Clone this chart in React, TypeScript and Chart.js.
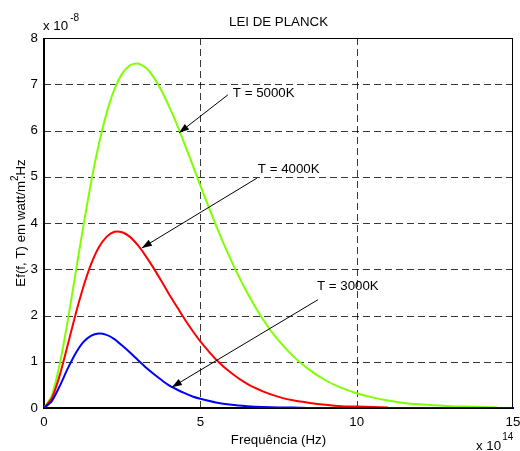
import React, { useEffect, useRef } from "react";
import { Chart, registerables } from "chart.js";

Chart.register(...registerables);

// ---- data (frequency in units of 1e14 Hz, radiance in units of 1e-8) ----
const freq = [
  0, 0.25, 0.5, 0.75, 1, 1.25, 1.5, 1.75, 2, 2.25, 2.5, 2.75, 3, 3.25, 3.5, 3.75, 4,
  4.25, 4.5, 4.75, 5, 5.5, 6, 6.5, 7, 7.5, 8, 8.5, 9, 9.5, 10, 10.5, 11, 11.5, 12,
  12.5, 13, 13.5, 14, 14.5, 15,
];
const e5000 = [
  0, 0.27, 0.94, 1.85, 2.88, 3.9, 4.86, 5.69, 6.37, 6.89, 7.23, 7.41, 7.45, 7.36,
  7.16, 6.87, 6.52, 6.13, 5.7, 5.26, 4.81, 3.95, 3.17, 2.49, 1.92, 1.46, 1.1, 0.82,
  0.6, 0.44, 0.32, 0.23, 0.16, 0.11, 0.08, 0.06, 0.04, 0.03, 0.02, 0.01,
];
const e4000 = [
  0, 0.21, 0.7, 1.34, 2.0, 2.6, 3.1, 3.47, 3.7, 3.81, 3.8, 3.7, 3.52, 3.29, 3.03,
  2.75, 2.46, 2.19, 1.92, 1.67, 1.44, 1.05, 0.75, 0.52, 0.36, 0.24, 0.16, 0.11, 0.07,
  0.04, 0.03, 0.02, 0.01,
];
const e3000 = [
  0, 0.15, 0.47, 0.84, 1.17, 1.42, 1.56, 1.61, 1.58, 1.49, 1.35, 1.2, 1.04, 0.88,
  0.74, 0.61, 0.49, 0.4, 0.32, 0.25, 0.2, 0.12, 0.07, 0.04, 0.02, 0.01, 0.01, 0, 0,
  0, 0, 0, 0, 0, 0, 0, 0, 0, 0, 0, 0,
];
const xTicks = [0, 5, 10, 15];
const yTicks = [0, 1, 2, 3, 4, 5, 6, 7, 8];
const seriesLabels = ["T = 3000K", "T = 4000K", "T = 5000K"];
const titleText = "LEI DE PLANCK";
const xLabelText = "Frequência (Hz)";
const yLabelMain = "Ef(f, T) em watt/m";
const yLabelSup = "2";
const yLabelTail = ".Hz";
const expBase = "x 10";
const xExponent = "14";
const yExponent = "-8";

const FONT = '"Liberation Sans", Arial, Helvetica, sans-serif';
const fs = 13.3;

const pts = (vals: number[]) => vals.map((v, i) => ({ x: freq[i], y: v }));

// annotation anchors in data coordinates: [textX, textY, lineStartX, lineStartY, tipX, tipY]
const annotationGeom: number[][] = [
  [8.73, 2.62, 8.76, 2.34, 4.09, 0.45],
  [6.84, 5.17, 6.81, 4.97, 3.13, 3.46],
  [6.04, 6.81, 5.88, 6.77, 4.32, 5.95],
];

const decorPlugin = {
  id: "decor",
  beforeDatasetsDraw(chart: any) {
    const { ctx, chartArea: a, scales } = chart;
    const xs = scales.x;
    const ys = scales.y;
    ctx.save();
    ctx.strokeStyle = "rgba(0,0,0,0.78)";
    ctx.lineWidth = 1;
    ctx.setLineDash([7, 4]);
    for (const v of xTicks) {
      if (v === xTicks[0] || v === xTicks[xTicks.length - 1]) continue;
      const px = Math.round(xs.getPixelForValue(v)) + 0.5;
      ctx.beginPath();
      ctx.moveTo(px, a.top);
      ctx.lineTo(px, a.bottom);
      ctx.stroke();
    }
    for (const v of yTicks) {
      if (v === yTicks[0] || v === yTicks[yTicks.length - 1]) continue;
      const py = Math.round(ys.getPixelForValue(v)) + 0.5;
      ctx.beginPath();
      ctx.moveTo(a.left, py);
      ctx.lineTo(a.right, py);
      ctx.stroke();
    }
    ctx.setLineDash([]);
    ctx.strokeStyle = "#000";
    ctx.lineWidth = 1;
    ctx.strokeRect(a.left + 0.5, a.top + 0.5, a.right - a.left - 1, a.bottom - a.top);
    ctx.lineWidth = 2;
    ctx.beginPath();
    ctx.moveTo(a.left, a.top);
    ctx.lineTo(a.left, a.bottom);
    ctx.lineTo(a.right + 1, a.bottom);
    ctx.stroke();
    ctx.restore();
  },
  afterDatasetsDraw(chart: any) {
    const { ctx, chartArea: a, scales } = chart;
    const xs = scales.x;
    const ys = scales.y;
    ctx.save();
    ctx.fillStyle = "#000";
    ctx.strokeStyle = "#000";
    annotationGeom.forEach((g, i) => {
      const tx = xs.getPixelForValue(g[0]);
      const ty = ys.getPixelForValue(g[1]);
      const sx = xs.getPixelForValue(g[2]);
      const sy = ys.getPixelForValue(g[3]);
      const ex = xs.getPixelForValue(g[4]);
      const ey = ys.getPixelForValue(g[5]);
      ctx.font = `${fs}px ${FONT}`;
      ctx.textAlign = "left";
      ctx.textBaseline = "middle";
      ctx.fillText(seriesLabels[i], tx, ty);
      ctx.lineWidth = 1;
      ctx.beginPath();
      ctx.moveTo(sx, sy);
      ctx.lineTo(ex, ey);
      ctx.stroke();
      const ang = Math.atan2(ey - sy, ex - sx);
      const L = 10;
      const W = 3.5;
      const bx = ex - L * Math.cos(ang);
      const by = ey - L * Math.sin(ang);
      ctx.beginPath();
      ctx.moveTo(ex, ey);
      ctx.lineTo(bx + W * Math.sin(ang), by - W * Math.cos(ang));
      ctx.lineTo(bx - W * Math.sin(ang), by + W * Math.cos(ang));
      ctx.closePath();
      ctx.fill();
    });
    ctx.font = `${fs}px ${FONT}`;
    ctx.textAlign = "center";
    ctx.textBaseline = "middle";
    ctx.fillText(titleText, (a.left + a.right) / 2, a.top - 16);
    ctx.fillText(xLabelText, (a.left + a.right) / 2, a.bottom + 32);
    ctx.textAlign = "left";
    ctx.fillText(expBase, a.left - 1, a.top - 12);
    const w1 = ctx.measureText(expBase).width;
    ctx.font = `10px ${FONT}`;
    ctx.fillText(yExponent, a.left + w1 + 1, a.top - 20);
    ctx.font = `${fs}px ${FONT}`;
    ctx.fillText(expBase, a.right - 37, a.bottom + 38);
    ctx.font = `10px ${FONT}`;
    ctx.fillText(xExponent, a.right - 37 + w1 + 1, a.bottom + 29);
    ctx.translate(21, (a.top + a.bottom) / 2);
    ctx.rotate(-Math.PI / 2);
    ctx.font = `${fs}px ${FONT}`;
    const m1 = ctx.measureText(yLabelMain).width;
    ctx.font = `10px ${FONT}`;
    const m2 = ctx.measureText(yLabelSup).width;
    ctx.font = `${fs}px ${FONT}`;
    const m3 = ctx.measureText(yLabelTail).width;
    const x0 = -(m1 + m2 * 0.3 + m3) / 2;
    ctx.fillText(yLabelMain, x0, 0);
    ctx.font = `10px ${FONT}`;
    ctx.fillText(yLabelSup, x0 + m1, -6);
    ctx.font = `${fs}px ${FONT}`;
    ctx.fillText(yLabelTail, x0 + m1 + m2 * 0.3, 0);
    ctx.restore();
  },
};

export default function App() {
  const ref = useRef<HTMLCanvasElement>(null);
  useEffect(() => {
    const canvas = ref.current;
    if (!canvas) return;
    const mk = (label: string, vals: number[], color: string) => ({
      label,
      data: pts(vals),
      borderColor: color,
      borderWidth: 2,
      pointRadius: 0,
      fill: false,
      tension: 0.25,
    });
    const chart = new Chart(canvas, {
      type: "line",
      data: {
        datasets: [
          mk(seriesLabels[0], e3000, "#0000ff"),
          mk(seriesLabels[1], e4000, "#ff0000"),
          mk(seriesLabels[2], e5000, "#80ff00"),
        ],
      },
      options: {
        responsive: false,
        animation: false,
        devicePixelRatio: 1,
        layout: { padding: { top: 38, right: 7, left: 0, bottom: 0 } },
        plugins: { legend: { display: false }, tooltip: { enabled: false }, title: { display: false } },
        scales: {
          x: {
            type: "linear",
            min: xTicks[0],
            max: xTicks[xTicks.length - 1],
            afterBuildTicks: (s: any) => {
              s.ticks = xTicks.map((v) => ({ value: v }));
            },
            afterFit: (s: any) => {
              s.height = 43;
              s.paddingLeft = 0;
              s.paddingRight = 0;
            },
            grid: { display: false, drawTicks: false },
            border: { display: false },
            ticks: { color: "#000", padding: 6, maxRotation: 0, font: { family: FONT, size: fs } },
          },
          y: {
            type: "linear",
            min: yTicks[0],
            max: yTicks[yTicks.length - 1],
            afterBuildTicks: (s: any) => {
              s.ticks = yTicks.map((v) => ({ value: v }));
            },
            afterFit: (s: any) => {
              s.width = 44;
              s.paddingTop = 0;
              s.paddingBottom = 0;
            },
            grid: { display: false, drawTicks: false },
            border: { display: false },
            ticks: { color: "#000", padding: 6, font: { family: FONT, size: fs } },
          },
        },
      },
      plugins: [decorPlugin],
    } as any);
    return () => chart.destroy();
  }, []);
  return (
    <div style={{ position: "fixed", left: 0, top: 0, width: 520, height: 451, background: "#fff" }}>
      <canvas ref={ref} width={520} height={451} style={{ display: "block", width: 520, height: 451 }} />
    </div>
  );
}
